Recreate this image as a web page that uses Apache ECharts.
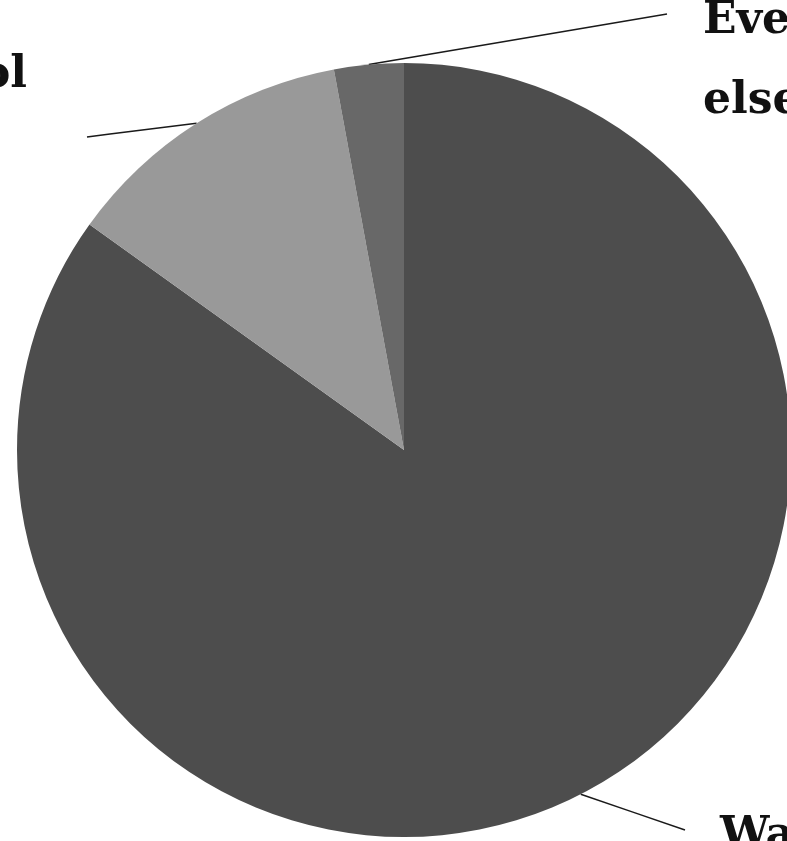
<!DOCTYPE html>
<html>
<head>
<meta charset="utf-8">
<script src="https://cdn.jsdelivr.net/npm/echarts@6/dist/echarts.min.js"></script>
<style>
html,body{margin:0;padding:0;background:#fff;}
#c{width:787px;height:841px;}
</style>
</head>
<body>
<div id="c"></div>
<script>
var categories = ["Walking", "School", "Everywhere\nelse"];
var values = [84.9, 12.2, 2.9];
var colors = ["#4d4d4d", "#999999", "#686868"];

var chart = echarts.init(document.getElementById('c'), null, {renderer: 'canvas'});

var labelSpots = [
  {x: 720, y: 797, align: 'left', verticalAlign: 'top', line: [[685, 830]]},
  {x: 27, y: 36, align: 'right', verticalAlign: 'top', line: [[110, 134], [87, 137]]},
  {x: 703, y: -18, align: 'left', verticalAlign: 'top', line: [[667, 14]]}
];

chart.setOption({
  animation: false,
  backgroundColor: '#ffffff',
  series: [{
    type: 'pie',
    center: [404, 450],
    radius: 387,
    startAngle: 90,
    clockwise: true,
    data: categories.map(function (c, i) {
      return {name: c, value: values[i], itemStyle: {color: colors[i]}};
    }),
    itemStyle: {borderWidth: 0},
    label: {
      show: true,
      position: 'outside',
      formatter: '{b}',
      fontFamily: 'DejaVu Serif',
      fontWeight: 'bold',
      fontSize: 44,
      lineHeight: 80,
      color: '#111111',
      overflow: 'none'
    },
    labelLine: {
      show: true,
      length: 20,
      length2: 20,
      smooth: false,
      lineStyle: {color: '#1a1a1a', width: 1.5}
    },
    labelLayout: function (params) {
      var s = labelSpots[params.dataIndex];
      var start = params.labelLinePoints ? params.labelLinePoints[0] : null;
      var pts = start ? [start].concat(s.line) : undefined;
      if (pts && pts.length === 2) {
        pts = [pts[0], [(pts[0][0] + pts[1][0]) / 2, (pts[0][1] + pts[1][1]) / 2], pts[1]];
      }
      return {
        x: s.x, y: s.y, align: s.align, verticalAlign: s.verticalAlign,
        labelLinePoints: pts
      };
    },
    emphasis: {disabled: true}
  }]
});
</script>
</body>
</html>
